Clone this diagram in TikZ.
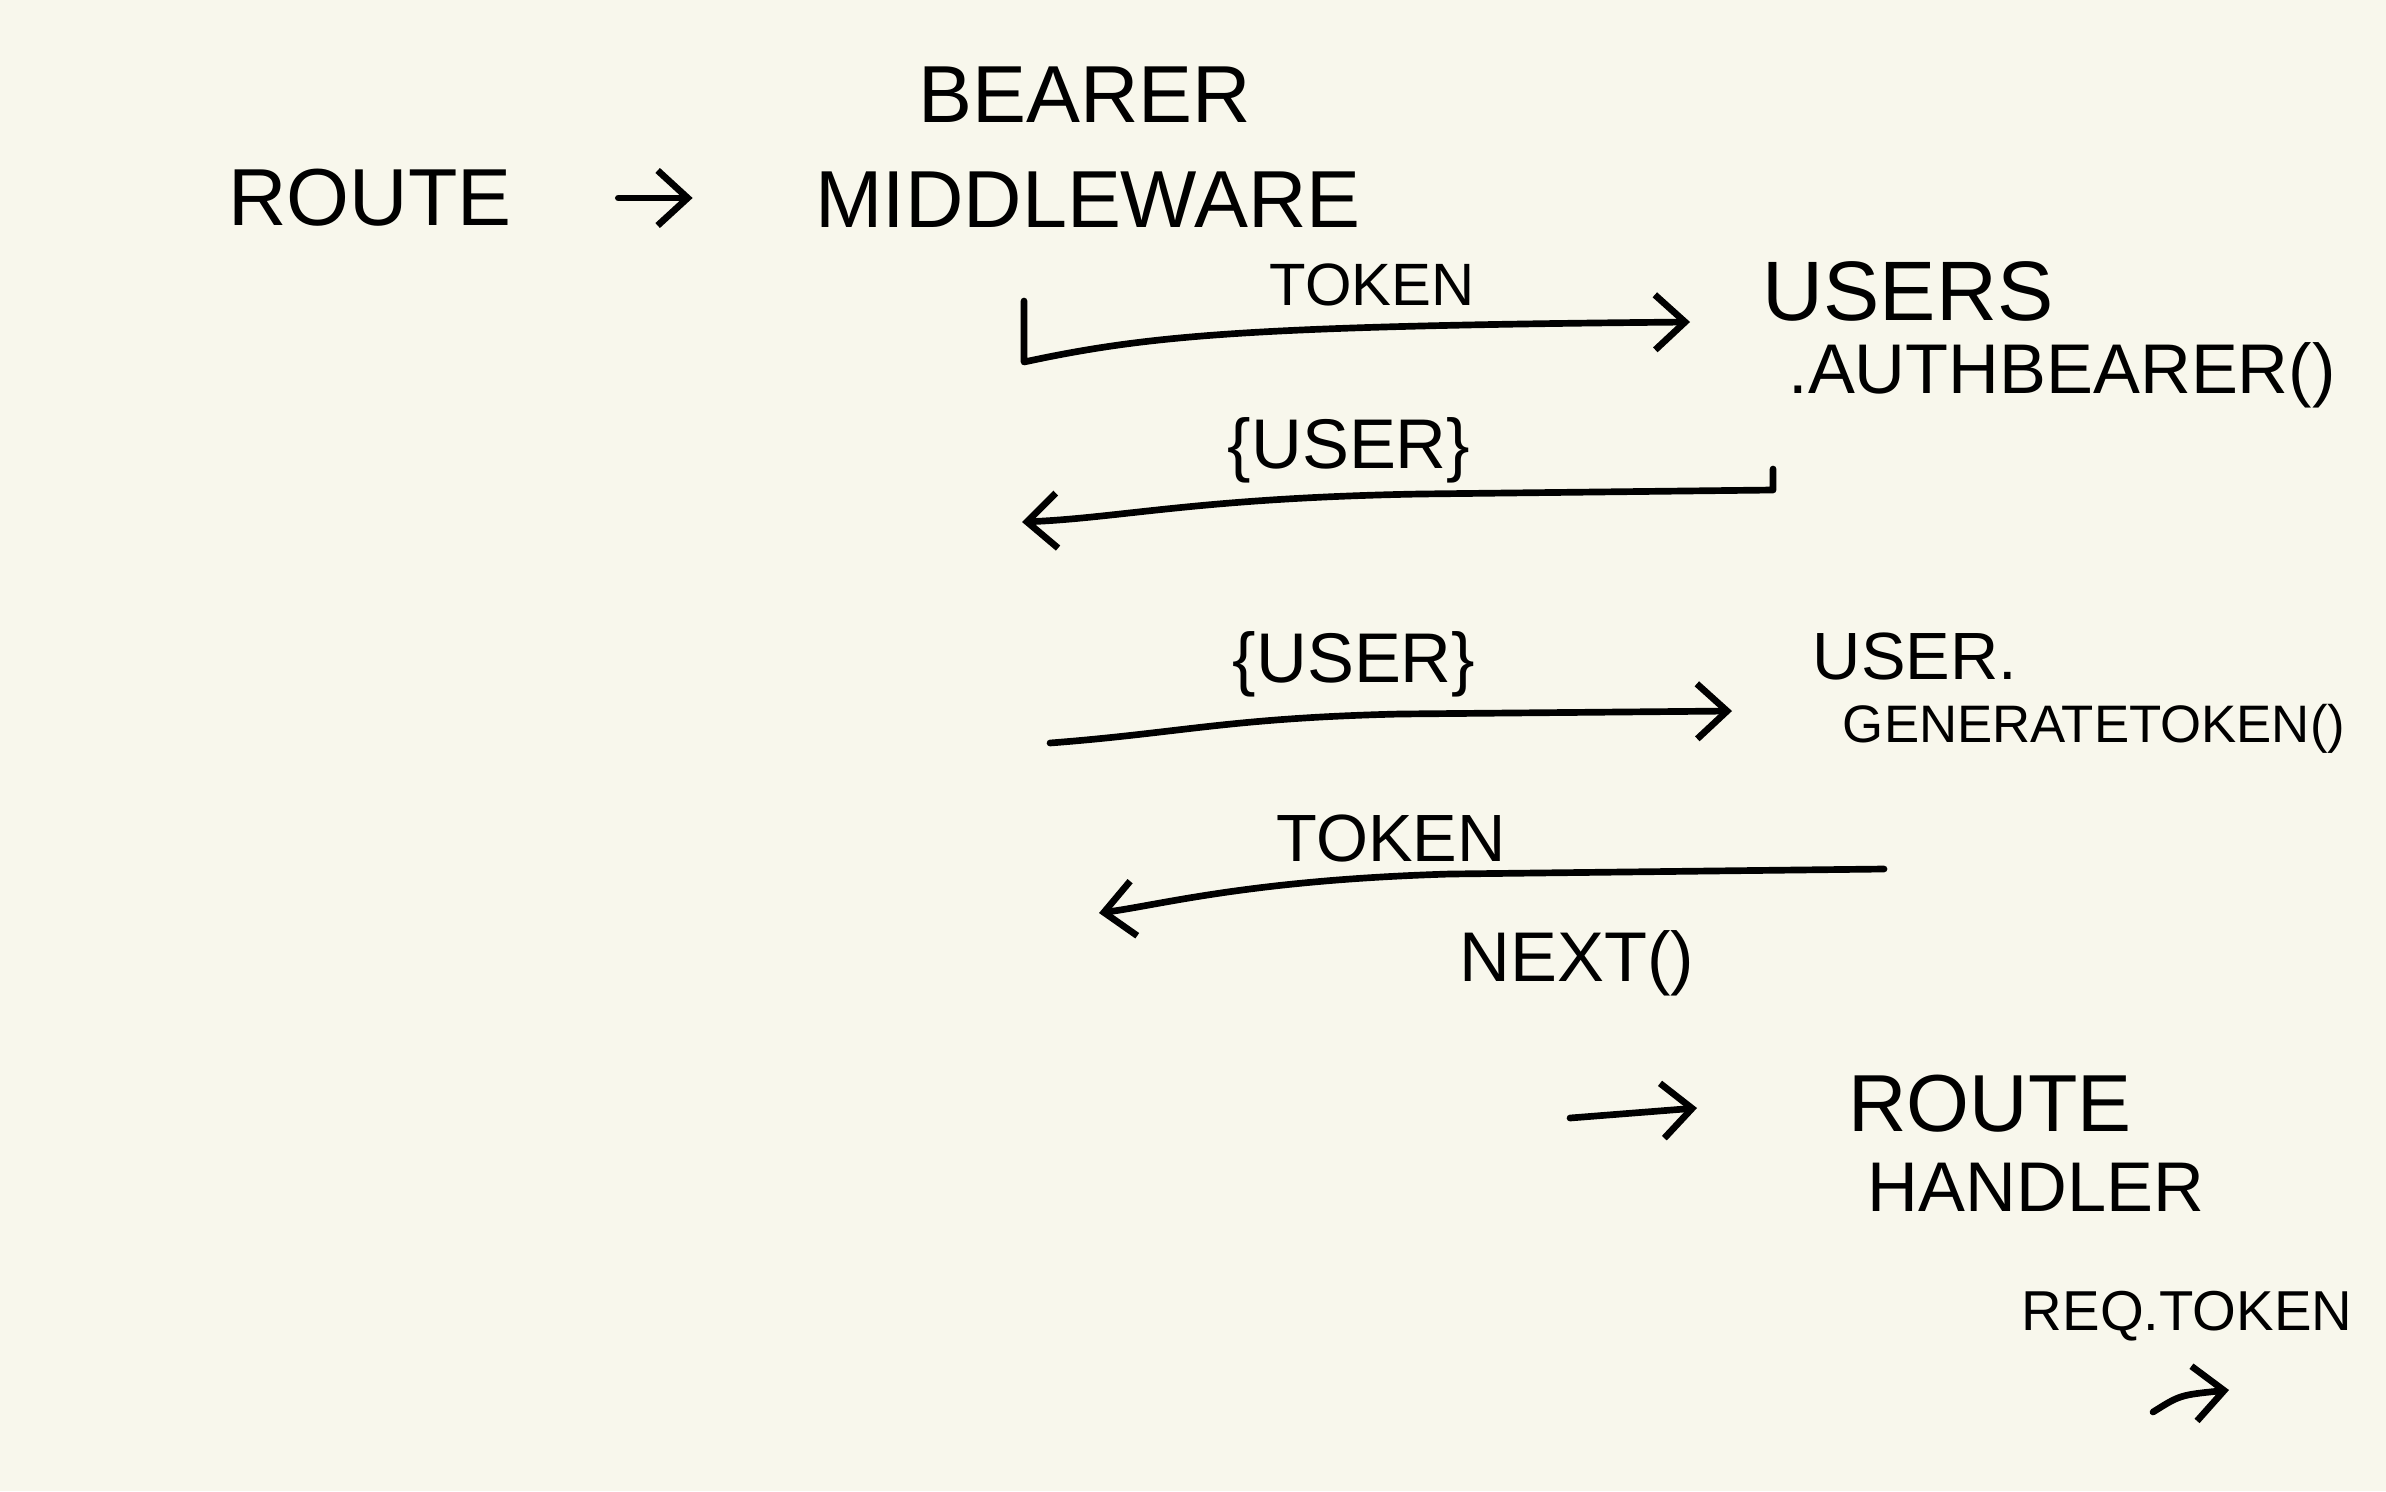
\documentclass[tikz,border=0pt]{standalone}
\usepackage{fontspec}
\setmainfont{Liberation Sans}
\usepackage{xcolor}
\usepackage{tikz}
\usetikzlibrary{arrows.meta, positioning, calc}
\definecolor{paper}{RGB}{248,247,236}

\begin{document}
\begin{tikzpicture}[x=0.01cm, y=-0.01cm,
  big/.style   = {inner sep=0pt, font=\fontsize{23}{27}\selectfont},
  mid/.style   = {inner sep=0pt, font=\fontsize{20}{24}\selectfont},
  small/.style = {inner sep=0pt, font=\fontsize{16}{19}\selectfont},
  arr/.style   = {-{Straight Barb[length=0.3cm, width=0.55cm]}, line width=1.9pt,
                  line cap=round, line join=round},
]
  \fill[paper] (0,0) rectangle (2386,1491);
  \useasboundingbox (0,0) rectangle (2386,1491);

  % heading
  \node[big] (route)  at (370,198)  {ROUTE};
  \node[big] (bearer) at (1085,95)  {BEARER};
  \node[big] (mw)     at (1088,200) {MIDDLEWARE};

  % callees
  \node[big, font=\fontsize{24}{28}\selectfont] (users) at (1908,291) {USERS};
  \node[mid] (auth)   at (2062,375) {.AUTHBEARER()};
  \node[mid, font=\fontsize{19}{23}\selectfont] (usr) at (1915,656) {USER.};
  \node[small, font=\fontsize{15}{18}\selectfont] (gen) at (2094,729) {GENERATETOKEN()};
  \node[big] (route2) at (1990,1104) {ROUTE};
  \node[mid] (handler) at (2036,1187) {HANDLER};
  \node[small] (req)  at (2187,1316) {REQ.TOKEN};

  % labels on the arrows
  \node[small, font=\fontsize{17}{20}\selectfont] (tok1) at (1372,285) {TOKEN};
  \node[mid] (user1)  at (1349,450) {\{USER\}};
  \node[mid] (user2)  at (1354,664) {\{USER\}};
  \node[mid, font=\fontsize{19}{23}\selectfont] (tok2) at (1391,838) {TOKEN};
  \node[mid] (next)   at (1577,963) {NEXT()};

  % arrow ends
  \coordinate (tokA) at (1024,301);
  \coordinate (tokB) at (1024,362);
  \coordinate (tokC) at (1690,322);
  \coordinate (usrA) at (1773,469);
  \coordinate (usrB) at (1773,490);
  \coordinate (usrC) at (1022,522);
  \coordinate (genA) at (1050,743);
  \coordinate (genB) at (1732,711);
  \coordinate (nxtA) at (1884,869);
  \coordinate (nxtB) at (1099,913);
  \coordinate (hdlA) at (1570,1118);
  \coordinate (hdlB) at (1697,1108);
  \coordinate (reqA) at (2153,1412);
  \coordinate (reqB) at (2229,1390);

  \draw[arr, shorten <=1.06cm, shorten >=1.22cm] (route.east) -- (mw.west |- route.east);
  \draw[arr] (tokA) -- (tokB) .. controls (1150,335) and (1250,326) .. (tokC);
  \draw[arr] (usrA) -- (usrB) -- (1420,494) .. controls (1200,498) and (1120,518) .. (usrC);
  \draw[arr] (genA) .. controls (1180,733) and (1230,718) .. (1400,714) -- (genB);
  \draw[arr] (nxtA) -- (1450,874) .. controls (1250,880) and (1160,905) .. (nxtB);
  \draw[arr] (hdlA) -- (hdlB);
  \draw[arr] (reqA) .. controls (2180,1395) .. (reqB);
\end{tikzpicture}
\end{document}
